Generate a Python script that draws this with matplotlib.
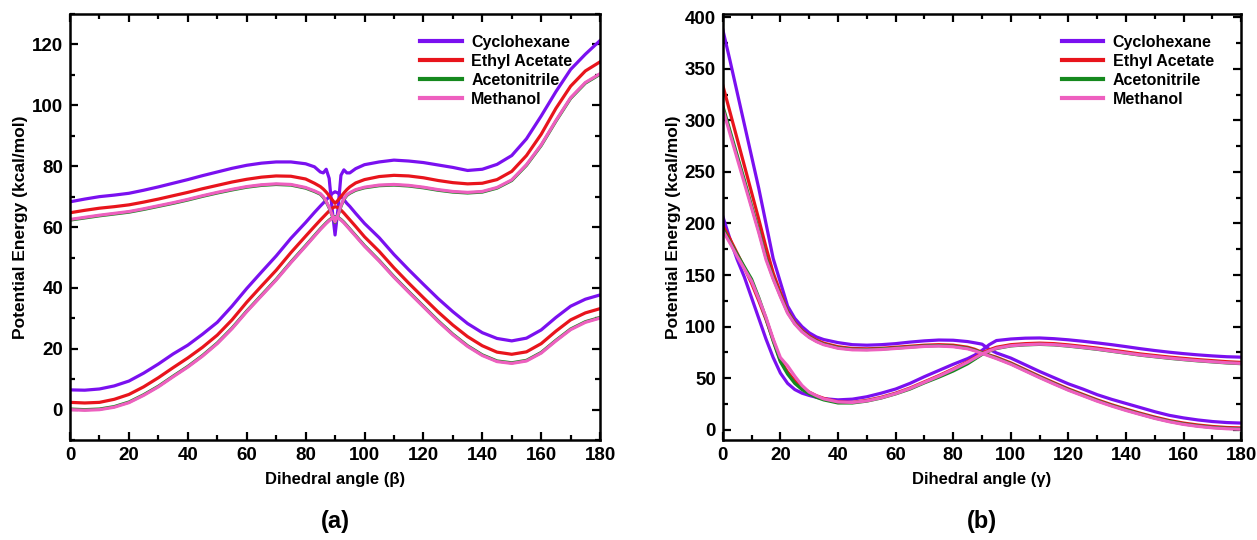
import matplotlib
matplotlib.use("Agg")
import matplotlib.pyplot as plt
from matplotlib.ticker import MultipleLocator

plt.rcParams["font.family"] = ["Liberation Sans", "DejaVu Sans"]
plt.rcParams["font.weight"] = "bold"

# ---- panel (a): dihedral beta ----
angle_a = [0, 5, 10, 15, 20, 25, 30, 35, 40, 45, 50, 55, 60, 65, 70, 75, 80,
           83, 85, 86, 87, 88, 89, 90, 91, 92, 93, 94, 95, 97,
           100, 105, 110, 115, 120, 125, 130, 135, 140, 145, 150, 155, 160, 165, 170, 175, 180]

cyc_a_up = [68.3, 69.2, 70, 70.5, 71.1, 72.1, 73.2, 74.4, 75.6, 76.9, 78.1, 79.3, 80.3, 81, 81.4, 81.4, 80.8,
            79.8, 78.1, 77.8, 79, 76, 66, 57.4, 66, 77, 78.8, 77.8, 77.8, 79.2,
            80.5, 81.4, 82, 81.7, 81.2, 80.4, 79.6, 78.6, 79, 80.6, 83.5, 89, 96.5, 104.5, 111.8, 116.8, 121.3]
eth_a_up = [64.7, 65.5, 66.2, 66.7, 67.3, 68.2, 69.2, 70.3, 71.4, 72.6, 73.7, 74.8, 75.7, 76.4, 76.8, 76.7, 75.8,
            74.4, 73.3, 72.5, 71.5, 70.3, 69, 67.8, 68.8, 70, 71.2, 72.3, 73.2, 74.5,
            75.6, 76.6, 77, 76.8, 76.2, 75.3, 74.6, 74.2, 74.4, 75.6, 78.3, 83.5, 90.5, 99, 106.3, 111.3, 114.3]
acn_a_up = [62.3, 63.0, 63.7, 64.3, 64.9, 65.8, 66.8, 67.8, 68.9, 70.1, 71.2, 72.2, 73.1, 73.7, 74.0, 73.8, 72.8,
            71.7, 70.8, 69.8, 68.3, 66.3, 63.8, 61.5, 63.8, 66.8, 69.1, 70.4, 71.1, 72.1,
            72.9, 73.6, 73.8, 73.5, 72.9, 72.1, 71.5, 71.2, 71.5, 72.8, 75.3, 80.3, 86.8, 94.8, 102.3, 107.3, 110.2]
met_a_up = [62.5, 63.2, 63.9, 64.5, 65.1, 66, 67, 68, 69.1, 70.3, 71.4, 72.4, 73.3, 73.9, 74.2, 74, 73,
            71.9, 71, 70, 68.5, 66.5, 64, 61.7, 64, 67, 69.3, 70.6, 71.3, 72.3,
            73.1, 73.8, 74, 73.7, 73.1, 72.3, 71.7, 71.4, 71.7, 73, 75.5, 80.5, 87, 95, 102.5, 107.5, 110.4]

cyc_a_low = [6.5, 6.4, 6.8, 7.8, 9.4, 12, 15, 18.3, 21.2, 24.8, 28.7, 34, 39.8, 45.2, 50.5, 56.3, 61.5,
             64.8, 66.9, 67.9, 68.9, 70, 71, 71.6, 71.2, 70.2, 69, 67.8, 66.8, 64.5,
             61.2, 56.5, 51, 46, 41.2, 36.5, 32.2, 28.3, 25.3, 23.4, 22.6, 23.5, 26.2, 30.3, 34, 36.3, 37.7]
eth_a_low = [2.4, 2.2, 2.4, 3.4, 5, 7.5, 10.5, 13.8, 17, 20.5, 24.5, 29.5, 35.3, 40.6, 45.8, 51.6, 57,
             60.2, 62.3, 63.3, 64.3, 65.3, 66.2, 66.7, 66.4, 65.6, 64.6, 63.5, 62.4, 60.2,
             56.8, 52, 46.6, 41.6, 36.8, 32.1, 27.8, 24, 21, 18.9, 18.2, 19, 21.7, 25.8, 29.5, 31.8, 33.2]
acn_a_low = [0.2, 0, 0.2, 1, 2.5, 4.9, 7.7, 11, 14.2, 17.8, 21.9, 26.8, 32.4, 37.6, 42.8, 48.5, 53.9,
             57.2, 59.4, 60.4, 61.4, 62.3, 63, 63.4, 63.2, 62.5, 61.6, 60.5, 59.4, 57.2,
             53.9, 49, 43.7, 38.8, 34, 29.2, 24.8, 21, 18, 16, 15.4, 16.2, 18.8, 22.8, 26.5, 28.9, 30.3]
met_a_low = [0, -0.2, 0, 0.8, 2.3, 4.7, 7.5, 10.8, 14, 17.6, 21.7, 26.6, 32.2, 37.4, 42.6, 48.3, 53.7,
             57, 59.2, 60.2, 61.2, 62.1, 62.8, 63.2, 63, 62.3, 61.4, 60.3, 59.2, 57,
             53.7, 48.8, 43.5, 38.6, 33.8, 29, 24.6, 20.8, 17.8, 15.8, 15.2, 16, 18.6, 22.6, 26.3, 28.7, 30.1]

# ---- panel (b): dihedral gamma ----
angle_b = [0, 2.5, 5, 7.5, 10, 12.5, 15, 17.5, 20, 22.5, 25, 27.5, 30, 32.5, 35,
           40, 45, 50, 55, 60, 65, 70, 75, 80, 85, 87.5, 90, 92.5, 95,
           100, 105, 110, 115, 120, 125, 130, 135, 140, 145, 150, 155, 160, 165, 170, 175, 180]

cyc_b1 = [388, 358, 327, 296, 265, 234, 200, 166, 143, 120, 108, 100, 94, 90, 87.5,
          84.5, 82.5, 82, 82.5, 83.5, 85, 86.2, 87, 86.8, 85.5, 84.3, 83, 78, 74.5,
          69.5, 63, 56.5, 50.5, 44.5, 39.5, 34, 29.5, 25.5, 21.5, 17.5, 14, 11.5, 9.5, 8, 7, 6.5]
eth_b1 = [334, 308, 282, 256, 230, 204, 177, 152, 133, 115, 104, 96.5, 91, 87, 84,
          80.5, 78.8, 78.5, 79, 80, 81, 82, 82.5, 82, 80, 78, 75, 72.5, 70.3,
          64.8, 58.3, 51.8, 45.6, 39.6, 34.3, 29, 24.3, 20, 16, 12.3, 9, 6.5, 4.6, 3.2, 2.2, 1.8]
acn_b1 = [314, 290, 266, 242, 217, 193, 167, 147, 130, 114, 103, 95.5, 90, 86, 83,
          79.5, 78, 77.8, 78.3, 79.2, 80.2, 81.2, 81.6, 81, 79, 77, 74.5, 72, 69.5,
          64, 57.5, 51, 44.8, 38.8, 33.5, 28.2, 23.5, 19.2, 15.2, 11.4, 8.2, 5.6, 3.7, 2.3, 1.4, 0.9]
met_b1 = [311, 287, 263, 239, 215, 191, 165, 146, 129, 113, 102.5, 95, 89.5, 85.5, 82.5,
          79, 77.5, 77.3, 77.8, 78.8, 79.8, 80.8, 81.2, 80.5, 78.5, 76.5, 74, 71.5, 69,
          63.5, 57, 50.5, 44.3, 38.3, 33, 27.7, 23, 18.7, 14.8, 11, 7.8, 5.2, 3.3, 1.9, 1, 0.5]

cyc_b2 = [207, 185, 165, 148, 128, 108, 88, 70, 55, 45, 39, 35.5, 33.3, 31.5, 30.2,
          29, 29.7, 32, 35.5, 39.5, 45, 51.5, 57.5, 63.5, 69, 72.5, 77, 82.5, 86.5,
          88, 88.8, 89, 88.3, 87.2, 85.8, 84.2, 82.5, 80.6, 78.6, 76.8, 75.2, 73.8, 72.6, 71.6, 70.8, 70.4]
eth_b2 = [198, 185, 171, 157, 142, 125, 107, 87, 67, 56, 47.5, 41, 36.5, 33, 30.5,
          27, 26.5, 28.5, 31.5, 35.5, 40.5, 46.5, 52.5, 59, 66, 70, 74.5, 77.5, 80,
          82.5, 83.5, 84, 83.5, 82.3, 80.8, 79.2, 77.3, 75.4, 73.5, 72, 70.5, 69.2, 68, 67, 66, 65.3]
acn_b2 = [195, 182, 170, 158, 146, 128, 108, 86, 66, 54, 45, 39, 35, 31.5, 29,
          26, 26, 27.8, 30.8, 34.8, 39.5, 45.5, 51, 57, 64, 68.5, 73, 76.3, 78.8,
          81.3, 82.3, 82.8, 82.3, 81.1, 79.6, 78, 76.1, 74.2, 72.3, 70.8, 69.3, 68, 66.8, 65.8, 64.8, 64.1]
met_b2 = [193, 181, 168, 156, 144, 127, 109, 88, 70, 62, 52, 43, 36.5, 33, 30,
          27, 26.5, 28, 31, 35, 40, 46, 52, 58.5, 65.5, 69.5, 73.5, 76.5, 79,
          81.5, 82.5, 83, 82.5, 81.3, 79.8, 78.2, 76.3, 74.4, 72.5, 71, 69.5, 68.2, 67, 66, 65, 64.3]

labels = ["Cyclohexane", "Ethyl Acetate", "Acetonitrile", "Methanol"]
colors = ["#7a10f0", "#e8141c", "#15891e", "#ee5fbf"]

fig = plt.figure(figsize=(12.57, 5.40), dpi=100)
ax1 = fig.add_axes([0.0557, 0.185, 0.4217, 0.789])
ax2 = fig.add_axes([0.575, 0.185, 0.4125, 0.789])

series_a = [(cyc_a_up, cyc_a_low), (eth_a_up, eth_a_low), (acn_a_up, acn_a_low), (met_a_up, met_a_low)]
series_b = [(cyc_b1, cyc_b2), (eth_b1, eth_b2), (acn_b1, acn_b2), (met_b1, met_b2)]

for ax, x, series in [(ax1, angle_a, series_a), (ax2, angle_b, series_b)]:
    for (y1, y2), lab, col in zip(series, labels, colors):
        ax.plot(x, y1, color=col, lw=2.3, label=lab)
        ax.plot(x, y2, color=col, lw=2.3)

ax1.set_ylim(-10, 130)
ax1.yaxis.set_major_locator(MultipleLocator(20))
ax1.yaxis.set_minor_locator(MultipleLocator(10))
ax2.set_ylim(-10, 403)
ax2.yaxis.set_major_locator(MultipleLocator(50))
ax2.yaxis.set_minor_locator(MultipleLocator(25))

for ax, xl, tag in [(ax1, "Dihedral angle (β)", "(a)"), (ax2, "Dihedral angle (γ)", "(b)")]:
    ax.set_xlim(0, 180)
    ax.xaxis.set_major_locator(MultipleLocator(20))
    ax.xaxis.set_minor_locator(MultipleLocator(10))
    ax.tick_params(which="both", direction="in", top=True, right=True, width=1.6,
                   labelsize=13.5, pad=5)
    ax.tick_params(which="major", length=6)
    ax.tick_params(which="minor", length=3.5)
    for lb in ax.get_xticklabels() + ax.get_yticklabels():
        lb.set_fontweight("bold")
    for sp in ax.spines.values():
        sp.set_linewidth(1.8)
    ax.set_xlabel(xl, fontsize=12, fontweight="bold", labelpad=6)
    ax.set_ylabel("Potential Energy (kcal/mol)", fontsize=12.5, fontweight="bold", labelpad=3)
    ax.text(0.5, -0.19, tag, transform=ax.transAxes, ha="center", va="center",
            fontsize=17, fontweight="bold")
    leg = ax.legend(loc="upper right", bbox_to_anchor=(0.975, 0.985), frameon=False,
                    handlelength=2.6, handletextpad=0.6, labelspacing=0.25,
                    prop={"weight": "bold", "size": 11.5})
    for h in leg.get_lines():
        h.set_linewidth(3)

fig.savefig("out.png", dpi=100)
